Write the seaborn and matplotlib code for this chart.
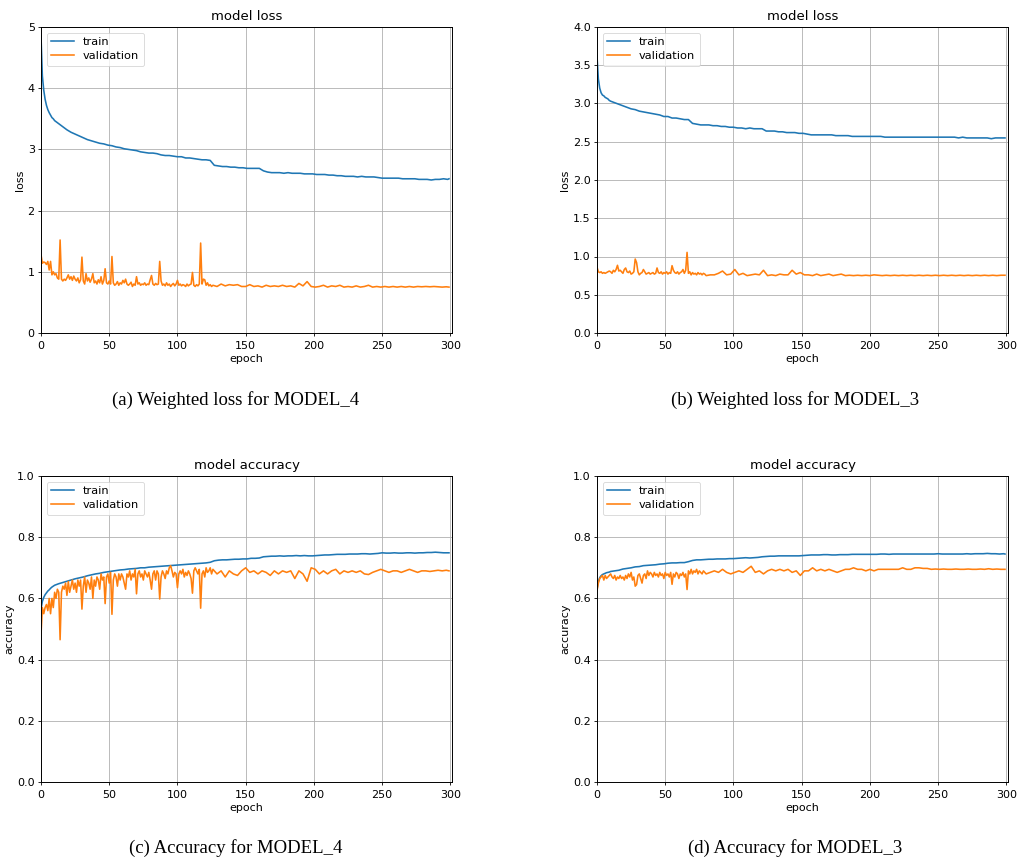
import matplotlib
matplotlib.use("Agg")
import matplotlib.pyplot as plt
import seaborn as sns
import numpy as np

# ---------------- data ----------------
TRAIN_EPOCHS = list(range(0, 11)) + list(range(13, 299, 3)) + [299]

# (a) MODEL_4 loss
a_train_loss = [4.85, 4.2, 3.97, 3.82, 3.72, 3.65, 3.6, 3.56, 3.52, 3.5, 3.47,
                3.42, 3.37, 3.32, 3.28, 3.25, 3.22, 3.19, 3.16, 3.14, 3.12,
                3.1, 3.09, 3.07, 3.06, 3.04, 3.03, 3.01, 3.0, 2.99, 2.98,
                2.96, 2.95, 2.94, 2.94, 2.93, 2.91, 2.9, 2.9, 2.89, 2.88,
                2.88, 2.86, 2.86, 2.85, 2.84, 2.83, 2.83, 2.82, 2.74, 2.73,
                2.72, 2.72, 2.71, 2.71, 2.7, 2.7, 2.69, 2.69, 2.69, 2.69,
                2.65, 2.63, 2.62, 2.62, 2.62, 2.61, 2.62, 2.61, 2.61, 2.61,
                2.6, 2.6, 2.6, 2.59, 2.59, 2.59, 2.58, 2.58, 2.57, 2.57,
                2.56, 2.56, 2.56, 2.55, 2.56, 2.55, 2.55, 2.55, 2.54, 2.53,
                2.53, 2.53, 2.53, 2.53, 2.52, 2.52, 2.52, 2.52, 2.51, 2.51,
                2.51, 2.5, 2.51, 2.51, 2.52, 2.51, 2.52]
a_val_epochs = list(range(0, 126)) + list(range(126, 298, 3)) + [299]
a_val_loss = [1.28, 1.14, 1.16, 1.15, 1.12, 1.17, 1.03, 1.17, 0.95, 1.0,
              0.95, 0.97, 0.9, 0.88, 1.52, 0.88, 0.85, 0.88, 0.86, 0.9,
              0.95, 0.88, 0.92, 0.86, 0.93, 0.88, 0.85, 0.9, 0.82, 0.87,
              1.24, 0.85, 0.8, 0.97, 0.85, 0.9, 0.83, 0.88, 0.97, 0.82,
              0.85, 0.8, 0.87, 0.82, 0.92, 0.8, 0.86, 1.05, 0.82, 0.8,
              0.85, 0.8, 1.25, 0.82, 0.78, 0.8, 0.84, 0.78, 0.82, 0.8,
              0.86, 0.82, 0.88, 0.8, 0.78, 0.8, 0.83, 0.76, 0.8, 0.78,
              0.92, 0.8, 0.82, 0.78, 0.8, 0.79, 0.82, 0.78, 0.8, 0.79,
              0.87, 0.94, 0.8, 0.78, 0.81, 0.79, 0.8, 1.17, 0.85, 0.78,
              0.8, 0.77, 0.82, 0.78, 0.8, 0.76, 0.79, 0.81, 0.77, 0.8,
              0.86, 0.78, 0.8, 0.77, 0.79, 0.78, 0.76, 0.8, 0.77, 0.79,
              0.8, 0.99, 0.78, 0.76, 0.79, 0.77, 0.8, 1.47, 0.8, 0.88,
              0.87, 0.78, 0.82, 0.77, 0.79, 0.76,
              0.78, 0.76, 0.8, 0.77, 0.79, 0.78, 0.79, 0.76, 0.76, 0.79,
              0.76, 0.77, 0.75, 0.78, 0.76, 0.77, 0.76, 0.78, 0.76, 0.77,
              0.75, 0.81, 0.77, 0.84, 0.76, 0.75, 0.76, 0.78, 0.75, 0.77,
              0.76, 0.78, 0.75, 0.76, 0.75, 0.77, 0.75, 0.76, 0.78, 0.75,
              0.76, 0.75, 0.76, 0.75, 0.76, 0.75, 0.76, 0.75, 0.76, 0.75,
              0.76, 0.755, 0.76, 0.755, 0.76, 0.755, 0.75, 0.755, 0.75]

# (b) MODEL_3 loss
b_train_loss = [3.62, 3.32, 3.2, 3.14, 3.11, 3.1, 3.08, 3.07, 3.06, 3.04, 3.03,
                3.01, 2.99, 2.97, 2.95, 2.93, 2.92, 2.9, 2.89, 2.88, 2.87,
                2.86, 2.85, 2.83, 2.83, 2.81, 2.81, 2.8, 2.79, 2.79, 2.74,
                2.73, 2.72, 2.72, 2.72, 2.71, 2.71, 2.7, 2.7, 2.69, 2.69,
                2.68, 2.68, 2.67, 2.68, 2.67, 2.67, 2.67, 2.64, 2.64, 2.64,
                2.63, 2.63, 2.62, 2.62, 2.62, 2.61, 2.61, 2.6, 2.59, 2.59,
                2.59, 2.59, 2.59, 2.59, 2.58, 2.58, 2.58, 2.58, 2.57, 2.57,
                2.57, 2.57, 2.57, 2.57, 2.57, 2.57, 2.56, 2.56, 2.56, 2.56,
                2.56, 2.56, 2.56, 2.56, 2.56, 2.56, 2.56, 2.56, 2.56, 2.56,
                2.56, 2.56, 2.56, 2.56, 2.55, 2.56, 2.55, 2.55, 2.55, 2.55,
                2.55, 2.55, 2.54, 2.55, 2.55, 2.55, 2.55]
B_VAL_EPOCHS = list(range(0, 81)) + list(range(83, 300, 3))
b_val_loss = [0.86, 0.8, 0.79, 0.8, 0.78, 0.79, 0.78, 0.79, 0.8, 0.81,
              0.8, 0.78, 0.82, 0.8, 0.83, 0.885, 0.81, 0.82, 0.8, 0.78,
              0.83, 0.85, 0.8, 0.79, 0.81, 0.77, 0.78, 0.8, 0.967, 0.92,
              0.8, 0.76, 0.78, 0.79, 0.83, 0.8, 0.77, 0.78, 0.79, 0.77,
              0.78, 0.79, 0.77, 0.78, 0.85, 0.79, 0.78, 0.8, 0.77, 0.79,
              0.78, 0.8, 0.77, 0.79, 0.78, 0.88, 0.82, 0.79, 0.78, 0.8,
              0.77, 0.79, 0.8, 0.83, 0.78, 0.82, 1.054, 0.78, 0.8, 0.76,
              0.79, 0.77, 0.78, 0.76, 0.79, 0.77, 0.78, 0.76, 0.78, 0.77,
              0.75,
              0.76, 0.76, 0.78, 0.81, 0.76, 0.77, 0.83, 0.76, 0.78, 0.75,
              0.76, 0.77, 0.76, 0.82, 0.75, 0.76, 0.75, 0.77, 0.76, 0.76,
              0.82, 0.77, 0.79, 0.76, 0.76, 0.75, 0.77, 0.75, 0.76, 0.77,
              0.75, 0.76, 0.77, 0.75, 0.755, 0.75, 0.755, 0.75, 0.755, 0.75,
              0.76, 0.755, 0.75, 0.755, 0.75, 0.755, 0.75, 0.755, 0.75, 0.755,
              0.75, 0.755, 0.75, 0.755, 0.75, 0.755, 0.75, 0.755, 0.75, 0.755,
              0.75, 0.755, 0.75, 0.755, 0.75, 0.755, 0.75, 0.755, 0.75, 0.755,
              0.75, 0.755, 0.755]

# (c) MODEL_4 accuracy
c_train_acc = [0.565, 0.59, 0.603, 0.612, 0.618, 0.624, 0.628, 0.633, 0.637, 0.64, 0.643,
               0.648, 0.652, 0.656, 0.66, 0.664, 0.667, 0.67, 0.674, 0.677, 0.68,
               0.682, 0.685, 0.687, 0.689, 0.691, 0.693, 0.694, 0.696, 0.697, 0.698,
               0.7, 0.7, 0.702, 0.703, 0.704, 0.705, 0.706, 0.707, 0.708, 0.709,
               0.71, 0.711, 0.712, 0.713, 0.714, 0.715, 0.716, 0.718, 0.723, 0.725,
               0.726, 0.726, 0.727, 0.728, 0.728, 0.729, 0.729, 0.731, 0.731, 0.732,
               0.736, 0.737, 0.738, 0.738, 0.739, 0.738, 0.739, 0.739, 0.74, 0.739,
               0.74, 0.739, 0.739, 0.74, 0.741, 0.742, 0.742, 0.743, 0.744, 0.744,
               0.744, 0.745, 0.745, 0.745, 0.746, 0.746, 0.745, 0.746, 0.747, 0.749,
               0.748, 0.748, 0.749, 0.748, 0.748, 0.749, 0.749, 0.748, 0.749, 0.749,
               0.75, 0.75, 0.751, 0.75, 0.749, 0.749, 0.749]
c_val_acc = [0.48, 0.57, 0.55, 0.57, 0.58, 0.56, 0.6, 0.55, 0.6, 0.57,
             0.62, 0.6, 0.63, 0.62, 0.465, 0.62, 0.64, 0.63, 0.65, 0.61,
             0.655, 0.62, 0.64, 0.66, 0.63, 0.65, 0.62, 0.66, 0.64, 0.66,
             0.565, 0.64, 0.67, 0.62, 0.66, 0.65, 0.63, 0.67, 0.6, 0.66,
             0.64, 0.67, 0.66, 0.63, 0.68, 0.66, 0.67, 0.583, 0.67, 0.68,
             0.65, 0.685, 0.548, 0.66, 0.68, 0.67, 0.64, 0.68, 0.66, 0.68,
             0.67, 0.65, 0.63, 0.68, 0.67, 0.69, 0.66, 0.68, 0.67, 0.695,
             0.615, 0.68, 0.69, 0.67, 0.68, 0.66, 0.69, 0.68, 0.67, 0.685,
             0.66, 0.63, 0.68, 0.69, 0.66, 0.69, 0.68, 0.598, 0.67, 0.69,
             0.68, 0.665, 0.69, 0.68, 0.7, 0.707, 0.69, 0.67, 0.685, 0.68,
             0.635, 0.68, 0.69, 0.68, 0.695, 0.67, 0.685, 0.675, 0.69, 0.68,
             0.665, 0.617, 0.69, 0.7, 0.69, 0.68, 0.695, 0.568, 0.68, 0.69,
             0.67, 0.7, 0.685, 0.69, 0.7, 0.68,
             0.695, 0.68, 0.69, 0.67, 0.69, 0.68, 0.675, 0.69, 0.7, 0.685,
             0.69, 0.68, 0.69, 0.685, 0.675, 0.69, 0.68, 0.69, 0.685, 0.69,
             0.665, 0.69, 0.68, 0.656, 0.7, 0.695, 0.68, 0.69, 0.68, 0.69,
             0.695, 0.68, 0.69, 0.685, 0.69, 0.685, 0.69, 0.68, 0.678, 0.685,
             0.69, 0.695, 0.69, 0.685, 0.69, 0.69, 0.685, 0.69, 0.695, 0.69,
             0.685, 0.69, 0.69, 0.688, 0.69, 0.692, 0.69, 0.692, 0.69]

# (d) MODEL_3 accuracy
d_train_acc = [0.63, 0.655, 0.668, 0.674, 0.678, 0.68, 0.682, 0.684, 0.685, 0.686, 0.688,
               0.69, 0.692, 0.696, 0.698, 0.7, 0.703, 0.704, 0.707, 0.708, 0.709,
               0.71, 0.712, 0.713, 0.715, 0.716, 0.716, 0.717, 0.717, 0.72, 0.724,
               0.726, 0.726, 0.727, 0.728, 0.728, 0.729, 0.729, 0.729, 0.73, 0.73,
               0.731, 0.732, 0.733, 0.732, 0.733, 0.734, 0.736, 0.737, 0.738, 0.738,
               0.739, 0.739, 0.739, 0.739, 0.739, 0.739, 0.74, 0.741, 0.742, 0.742,
               0.742, 0.743, 0.743, 0.742, 0.742, 0.743, 0.743, 0.743, 0.744, 0.744,
               0.744, 0.744, 0.744, 0.744, 0.744, 0.745, 0.745, 0.744, 0.745, 0.745,
               0.745, 0.745, 0.745, 0.745, 0.745, 0.745, 0.745, 0.745, 0.745, 0.746,
               0.745, 0.745, 0.745, 0.745, 0.745, 0.745, 0.746, 0.745, 0.746, 0.746,
               0.746, 0.747, 0.746, 0.746, 0.745, 0.746, 0.745]
d_val_acc = [0.625, 0.65, 0.665, 0.67, 0.675, 0.66, 0.675, 0.665, 0.67, 0.675,
             0.68, 0.67, 0.665, 0.675, 0.66, 0.67, 0.665, 0.675, 0.665, 0.67,
             0.66, 0.675, 0.665, 0.68, 0.67, 0.685, 0.66, 0.67, 0.64, 0.645,
             0.675, 0.68, 0.665, 0.65, 0.675, 0.68, 0.665, 0.69, 0.675, 0.685,
             0.68, 0.67, 0.685, 0.675, 0.68, 0.67, 0.685, 0.675, 0.68, 0.665,
             0.685, 0.675, 0.68, 0.67, 0.685, 0.646, 0.68, 0.67, 0.685, 0.68,
             0.665, 0.68, 0.675, 0.685, 0.67, 0.68, 0.629, 0.69, 0.68, 0.695,
             0.68, 0.69, 0.685, 0.695, 0.68, 0.69, 0.685, 0.68, 0.69, 0.685,
             0.68,
             0.685, 0.69, 0.685, 0.695, 0.685, 0.68, 0.685, 0.69, 0.685, 0.695,
             0.705, 0.685, 0.69, 0.68, 0.69, 0.695, 0.69, 0.695, 0.69, 0.695,
             0.685, 0.69, 0.675, 0.69, 0.69, 0.7, 0.69, 0.695, 0.69, 0.695,
             0.69, 0.685, 0.69, 0.695, 0.695, 0.7, 0.695, 0.695, 0.69, 0.695,
             0.69, 0.695, 0.695, 0.695, 0.695, 0.695, 0.695, 0.7, 0.695, 0.695,
             0.7, 0.7, 0.698, 0.698, 0.695, 0.696, 0.695, 0.696, 0.695, 0.695,
             0.696, 0.695, 0.695, 0.696, 0.695, 0.695, 0.696, 0.695, 0.697, 0.695,
             0.696, 0.695, 0.695]

SERIES_LABELS = ["train", "validation"]
CAPTIONS = ["(a) Weighted loss for MODEL_4", "(b) Weighted loss for MODEL_3",
            "(c) Accuracy for MODEL_4", "(d) Accuracy for MODEL_3"]

# ---------------- plot ----------------
plt.rcParams["font.family"] = ["DejaVu Sans"]
plt.rcParams["font.size"] = 8

fig = plt.figure(figsize=(10.19, 8.65), dpi=100)
W, H = 1019, 865

def add_ax(left, top, right, bottom):
    return fig.add_axes([left / W, 1 - bottom / H, (right - left) / W, (bottom - top) / H])

axes = [add_ax(41, 27, 452, 333), add_ax(597, 27, 1008, 333),
        add_ax(41, 476, 452, 782), add_ax(597, 476, 1008, 782)]

panels = [
    (TRAIN_EPOCHS, a_train_loss, a_val_epochs, a_val_loss, "model loss", "loss", (0, 5), np.arange(0, 5.01, 1), "{:.0f}"),
    (TRAIN_EPOCHS, b_train_loss, B_VAL_EPOCHS, b_val_loss, "model loss", "loss", (0, 4), np.arange(0, 4.01, 0.5), "{:.1f}"),
    (TRAIN_EPOCHS, c_train_acc, a_val_epochs, c_val_acc, "model accuracy", "accuracy", (0, 1), np.arange(0, 1.01, 0.2), "{:.1f}"),
    (TRAIN_EPOCHS, d_train_acc, B_VAL_EPOCHS, d_val_acc, "model accuracy", "accuracy", (0, 1), np.arange(0, 1.01, 0.2), "{:.1f}"),
]

for ax, (te, tv, ve, vv, title, ylabel, ylim, yticks, fmt) in zip(axes, panels):
    sns.lineplot(x=te, y=tv, ax=ax, color="#1f77b4", linewidth=1.15, label=SERIES_LABELS[0])
    sns.lineplot(x=ve, y=vv, ax=ax, color="#ff7f0e", linewidth=1.15, label=SERIES_LABELS[1])
    ax.set_xlim(0, 301.2)
    ax.set_ylim(*ylim)
    ax.set_xticks(np.arange(0, 301, 50))
    ax.set_yticks(yticks)
    ax.set_yticklabels([fmt.format(t) for t in yticks])
    ax.grid(True, color="#b0b0b0", linewidth=0.6)
    ax.set_axisbelow(True)
    ax.set_title(title, fontsize=9.5, pad=5)
    ax.set_xlabel("epoch", labelpad=2)
    ax.set_ylabel(ylabel, labelpad=2)
    ax.tick_params(length=2.5, width=0.6)
    ax.tick_params(axis="x", pad=3.5)
    ax.tick_params(axis="y", pad=2)
    for s in ax.spines.values():
        s.set_linewidth(0.7)
    leg = ax.legend(loc="upper left", fontsize=8.2, framealpha=0.8,
                    handlelength=2.0, borderpad=0.4, labelspacing=0.35)
    leg.get_frame().set_linewidth(0.6)

cap_pos = [(236, 400), (795, 400), (236, 848), (795, 848)]
for (cx, cy), txt in zip(cap_pos, CAPTIONS):
    fig.text(cx / W, 1 - cy / H, txt, ha="center", va="center",
             family=["Liberation Serif"], fontsize=13.5)

fig.savefig("out.png", dpi=100)
